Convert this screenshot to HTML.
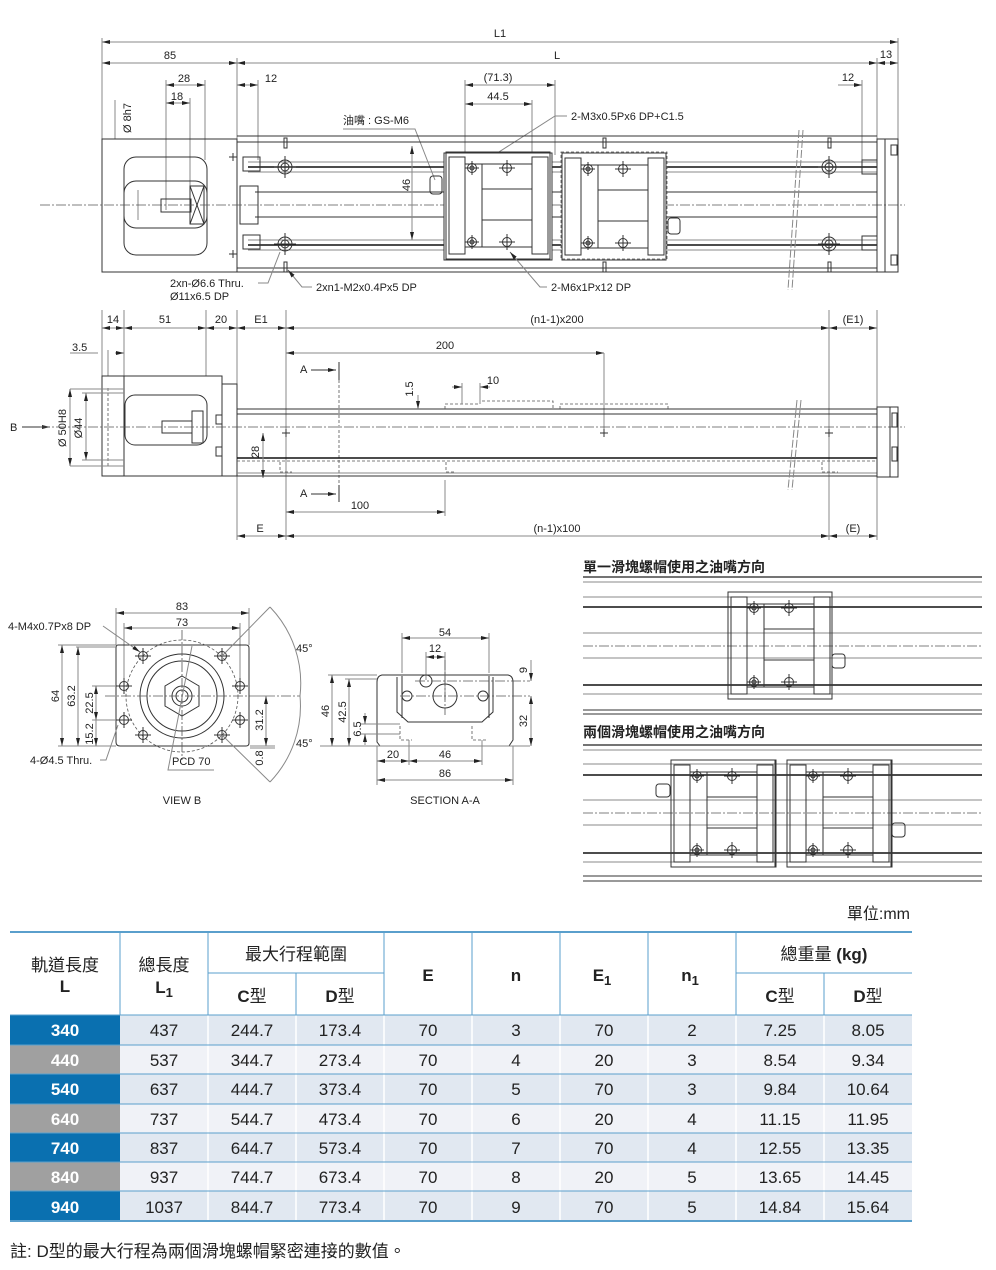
<!DOCTYPE html>
<html><head><meta charset="utf-8">
<style>
html,body{margin:0;padding:0;background:#fff;}
svg{display:block;}
text{font-family:"Liberation Sans","Noto Sans CJK TC",sans-serif;fill:#222;}
.d{font-size:11px;}
.l{stroke:#333;stroke-width:1;fill:none;}
.g{stroke:#888;stroke-width:1;fill:none;}
.k{stroke:#111;stroke-width:1.6;fill:none;}
.c{stroke:#555;stroke-width:0.8;fill:none;stroke-dasharray:10 2 2 2;}
.h{stroke:#555;stroke-width:0.8;fill:none;stroke-dasharray:3 2;}
.t{font-size:17px;text-anchor:middle;}
.w{fill:#fff;font-weight:bold;}
</style></head><body>
<svg width="996" height="1270" viewBox="0 0 996 1270" xmlns="http://www.w3.org/2000/svg">
<defs>
<marker id="a" markerWidth="8" markerHeight="6" refX="8" refY="3" orient="auto-start-reverse" markerUnits="userSpaceOnUse"><path d="M0,1 L8,3 L0,5z" fill="#222"/></marker>
<g id="hole"><circle r="7" class="l"/><circle r="4" class="l"/><path d="M-11,0H11M0,-11V11" class="l" stroke-width="0.6"/></g>
<g id="sh"><circle r="4.5" class="l"/><circle r="2" class="l"/><path d="M-7,0H7M0,-7V7" class="l" stroke-width="0.6"/></g>
<g id="ph"><circle r="4.5" class="l"/><path d="M-8,0H8M0,-8V8" class="l" stroke-width="0.6"/></g>
<g id="blk">
<rect x="0" y="0" width="104" height="107" class="l"/>
<rect x="3" y="5" width="16" height="97" class="l" stroke-width="1.3"/>
<rect x="86" y="5" width="16" height="97" class="l" stroke-width="1.3"/>
<rect x="19" y="12" width="67" height="83" class="l"/>
<path d="M36,12V95M36,37H86M36,68H86" class="l"/>
<use href="#sh" x="26" y="16"/><use href="#sh" x="26" y="90"/>
<use href="#ph" x="61" y="16"/><use href="#ph" x="61" y="90"/>
</g>
</defs>

<!-- ============ TOP VIEW ============ -->
<line x1="102" y1="42" x2="898" y2="42" class="g" marker-start="url(#a)" marker-end="url(#a)"/>
<text x="500" y="37" class="d" text-anchor="middle">L1</text>
<path d="M102,38V139M898,38V139M237,58V139M877,58V139" class="g"/>
<line x1="102" y1="63" x2="237" y2="63" class="g" marker-start="url(#a)" marker-end="url(#a)"/>
<text x="170" y="59" class="d" text-anchor="middle">85</text>
<line x1="237" y1="63" x2="877" y2="63" class="g" marker-start="url(#a)" marker-end="url(#a)"/>
<text x="557" y="59" class="d" text-anchor="middle">L</text>
<line x1="877" y1="63" x2="898" y2="63" class="g" marker-start="url(#a)" marker-end="url(#a)"/>
<text x="886" y="58" class="d" text-anchor="middle">13</text>
<line x1="166" y1="85" x2="205" y2="85" class="g" marker-start="url(#a)" marker-end="url(#a)"/>
<text x="184" y="82" class="d" text-anchor="middle">28</text>
<line x1="166" y1="103" x2="190" y2="103" class="g" marker-start="url(#a)" marker-end="url(#a)"/>
<text x="177" y="100" class="d" text-anchor="middle">18</text>
<path d="M166,80V210M190,98V200M205,80V160" class="g"/>
<line x1="237" y1="85" x2="258" y2="85" class="g" marker-start="url(#a)" marker-end="url(#a)"/>
<text x="271" y="82" class="d" text-anchor="middle">12</text>
<path d="M258,80V160" class="g"/>
<line x1="465" y1="85" x2="555" y2="85" class="g" marker-start="url(#a)" marker-end="url(#a)"/>
<text x="498" y="81" class="d" text-anchor="middle">(71.3)</text>
<line x1="465" y1="104" x2="532" y2="104" class="g" marker-start="url(#a)" marker-end="url(#a)"/>
<text x="498" y="100" class="d" text-anchor="middle">44.5</text>
<path d="M465,80V160M555,80V155M532,100V160" class="g"/>
<line x1="838" y1="85" x2="862" y2="85" class="g" marker-end="url(#a)"/>
<text x="848" y="81" class="d" text-anchor="middle">12</text>
<path d="M862,80V160" class="g"/>
<text x="131" y="118" class="d" transform="rotate(-90 131 118)" text-anchor="middle">Ø 8h7</text>
<line x1="115" y1="100" x2="115" y2="139" class="g"/>
<text x="343" y="124" class="d">油嘴 : GS-M6</text>
<path d="M343,129H415L435,180" class="g"/>
<text x="571" y="120" class="d">2-M3x0.5Px6 DP+C1.5</text>
<path d="M567,116H555L474,168" class="g" marker-end="url(#a)"/>

<!-- motor -->
<rect x="102" y="139" width="135" height="133" class="l"/>
<rect x="124" y="157" width="83" height="98" rx="12" class="l"/>
<rect x="124" y="181" width="83" height="47" rx="12" class="l"/>
<rect x="161" y="199" width="30" height="13" class="l"/>
<rect x="190" y="186" width="14" height="38" class="l"/>
<path d="M190,186L204,224M204,186L190,224" class="l"/>
<line x1="138" y1="190" x2="138" y2="220" class="g"/>
<!-- rail body -->
<path d="M237,136H877M237,142H877M237,272H877M237,268H877" class="l"/>
<path d="M248,167H877M248,245H877" class="k"/>
<path d="M248,162H877M248,172H877M248,240H877M248,250H877" class="g"/>
<path d="M255,192H877M255,217H877" class="l"/>
<rect x="240" y="186" width="18" height="38" class="l"/>
<rect x="243" y="157" width="17" height="14" class="l"/><rect x="243" y="235" width="17" height="14" class="l"/>
<line x1="40" y1="205" x2="905" y2="205" class="c"/>
<use href="#hole" x="285" y="167"/><use href="#hole" x="285" y="244"/>
<use href="#hole" x="829" y="167"/><use href="#hole" x="829" y="244"/>
<path d="M229,157H237M233,153V161M229,254H237M233,250V258" class="l"/>
<rect x="284" y="138" width="3" height="10" class="l"/><rect x="284" y="262" width="3" height="10" class="l"/>
<rect x="603" y="138" width="3" height="10" class="l"/><rect x="603" y="262" width="3" height="10" class="l"/>
<rect x="828" y="138" width="3" height="10" class="l"/><rect x="828" y="262" width="3" height="10" class="l"/>
<path d="M803,130L792,290M799,130L788,290" class="g" stroke-dasharray="8 2"/>
<!-- right end -->
<rect x="877" y="139" width="8" height="133" class="l"/>
<rect x="885" y="139" width="13" height="133" class="l"/>
<rect x="862" y="160" width="15" height="14" class="l"/><rect x="862" y="236" width="15" height="14" class="l"/>
<rect x="891" y="145" width="6" height="10" class="l"/><rect x="891" y="255" width="6" height="10" class="l"/>
<!-- sliders -->
<rect x="444" y="152" width="108" height="108" fill="#fff" stroke="none"/>
<use href="#blk" x="446" y="152"/>
<rect x="444" y="153" width="108" height="107" class="l"/>
<rect x="561" y="152" width="106" height="108" fill="#fff" stroke="none"/>
<use href="#blk" x="562" y="153"/>
<rect x="561" y="152" width="106" height="107" class="h"/>
<rect x="430" y="176" width="12" height="18" rx="3" class="l"/>
<rect x="668" y="218" width="12" height="16" rx="3" class="l"/>
<line x1="412" y1="146" x2="412" y2="240" class="g" marker-start="url(#a)" marker-end="url(#a)"/>
<text x="410" y="185" class="d" transform="rotate(-90 410 185)" text-anchor="middle">46</text>
<!-- labels -->
<text x="170" y="287" class="d">2xn-Ø6.6 Thru.</text>
<text x="170" y="300" class="d">Ø11x6.5 DP</text>
<path d="M258,283H268L280,252" class="g"/>
<text x="316" y="291" class="d">2xn1-M2x0.4Px5 DP</text>
<path d="M312,287H302L288,270" class="g" marker-end="url(#a)"/>
<text x="551" y="291" class="d">2-M6x1Px12 DP</text>
<path d="M547,287H540L510,252" class="g" marker-end="url(#a)"/>

<!-- ============ SIDE VIEW ============ -->
<path d="M102,310V376M124,310V376M206,310V376M237,310V540M286,310V540M829,310V540M877,310V540" class="g"/>
<line x1="102" y1="328" x2="124" y2="328" class="g" marker-start="url(#a)" marker-end="url(#a)"/>
<text x="113" y="323" class="d" text-anchor="middle">14</text>
<line x1="124" y1="328" x2="206" y2="328" class="g" marker-start="url(#a)" marker-end="url(#a)"/>
<text x="165" y="323" class="d" text-anchor="middle">51</text>
<line x1="206" y1="328" x2="237" y2="328" class="g" marker-start="url(#a)" marker-end="url(#a)"/>
<text x="221" y="323" class="d" text-anchor="middle">20</text>
<line x1="237" y1="328" x2="286" y2="328" class="g" marker-start="url(#a)" marker-end="url(#a)"/>
<text x="261" y="323" class="d" text-anchor="middle">E1</text>
<line x1="286" y1="328" x2="829" y2="328" class="g" marker-start="url(#a)" marker-end="url(#a)"/>
<text x="557" y="323" class="d" text-anchor="middle">(n1-1)x200</text>
<line x1="829" y1="328" x2="877" y2="328" class="g" marker-start="url(#a)" marker-end="url(#a)"/>
<text x="853" y="323" class="d" text-anchor="middle">(E1)</text>
<line x1="286" y1="353" x2="604" y2="353" class="g" marker-start="url(#a)" marker-end="url(#a)"/>
<text x="445" y="349" class="d" text-anchor="middle">200</text>
<path d="M604,353V433M108,350V376" class="g"/>
<path d="M70,353H98M115,353H124" class="g" marker-end="url(#a)"/>
<text x="72" y="351" class="d">3.5</text>
<text x="300" y="373" class="d">A</text><path d="M311,370H336" class="l" marker-end="url(#a)"/><path d="M339,362V380" class="l"/>
<text x="300" y="497" class="d">A</text><path d="M311,494H336" class="l" marker-end="url(#a)"/><path d="M339,485V502" class="l"/>
<path d="M339,380V485" class="h"/>
<text x="10" y="431" class="d">B</text><path d="M22,427H50" class="l" marker-end="url(#a)"/>
<rect x="102" y="376" width="120" height="100" class="l"/>
<path d="M222,376V384H237V476H222" class="l"/>
<path d="M124,376V476" class="l"/>
<rect x="125" y="395" width="82" height="50" rx="10" class="l"/>
<rect x="162" y="421" width="30" height="12" class="l"/>
<rect x="192" y="411" width="11" height="32" class="l"/>
<path d="M108,388V466" class="h"/>
<path d="M70,389H124M70,466H124M82,393H124M82,460H124" class="g"/>
<line x1="70" y1="389" x2="70" y2="466" class="g" marker-start="url(#a)" marker-end="url(#a)"/>
<line x1="86" y1="393" x2="86" y2="460" class="g" marker-start="url(#a)" marker-end="url(#a)"/>
<text x="66" y="428" class="d" transform="rotate(-90 66 428)" text-anchor="middle">Ø 50H8</text>
<text x="82" y="428" class="d" transform="rotate(-90 82 428)" text-anchor="middle">Ø44</text>
<rect x="216" y="415" width="6" height="9" class="l"/><rect x="216" y="447" width="6" height="9" class="l"/>
<path d="M237,409H877M237,414H877M237,476H877" class="l"/>
<path d="M237,458H877" class="k"/>
<path d="M237,461H877" class="h" stroke="#999" stroke-width="2"/>
<path d="M237,473H877" class="g"/>
<path d="M445,409V404H480V401H553V409M560,409V404H668V409" class="h"/>
<line x1="40" y1="427" x2="905" y2="427" class="c"/>
<path d="M282,433H290M286,429V437M600,433H608M604,429V437M825,433H833M829,429V437" class="l"/>
<line x1="263" y1="433" x2="263" y2="478" class="g" marker-start="url(#a)" marker-end="url(#a)"/>
<text x="259" y="452" class="d" transform="rotate(-90 259 452)" text-anchor="middle">28</text>
<line x1="418" y1="395" x2="418" y2="409" class="g" marker-end="url(#a)"/>
<text x="413" y="389" class="d" transform="rotate(-90 413 389)" text-anchor="middle">1.5</text>
<line x1="452" y1="387" x2="462" y2="387" class="g" marker-end="url(#a)"/>
<line x1="490" y1="387" x2="480" y2="387" class="g" marker-end="url(#a)"/>
<path d="M462,383V404M480,383V404" class="g"/>
<text x="493" y="384" class="d" text-anchor="middle">10</text>
<path d="M280,462V472H292M446,462V472H454M822,462V472H838" class="h"/>
<path d="M797,400L788,490M801,400L792,490" class="g" stroke-dasharray="8 2"/>
<rect x="877" y="407" width="13" height="70" class="l"/><rect x="890" y="407" width="8" height="70" class="l"/>
<rect x="892" y="413" width="5" height="14" class="l"/><rect x="892" y="447" width="5" height="14" class="l"/>
<line x1="286" y1="512" x2="445" y2="512" class="g" marker-start="url(#a)" marker-end="url(#a)"/>
<text x="360" y="509" class="d" text-anchor="middle">100</text>
<path d="M445,480V516" class="g"/>
<line x1="237" y1="536" x2="286" y2="536" class="g" marker-start="url(#a)" marker-end="url(#a)"/>
<text x="260" y="532" class="d" text-anchor="middle">E</text>
<line x1="286" y1="536" x2="829" y2="536" class="g" marker-start="url(#a)" marker-end="url(#a)"/>
<text x="557" y="532" class="d" text-anchor="middle">(n-1)x100</text>
<line x1="829" y1="536" x2="877" y2="536" class="g" marker-start="url(#a)" marker-end="url(#a)"/>
<text x="853" y="532" class="d" text-anchor="middle">(E)</text>

<!-- ============ VIEW B ============ -->
<path d="M116,608V645M249,608V645M124,623V686M240,623V686" class="g"/>
<line x1="116" y1="613" x2="249" y2="613" class="g" marker-start="url(#a)" marker-end="url(#a)"/>
<text x="182" y="610" class="d" text-anchor="middle">83</text>
<line x1="124" y1="628" x2="240" y2="628" class="g" marker-start="url(#a)" marker-end="url(#a)"/>
<text x="182" y="626" class="d" text-anchor="middle">73</text>
<path d="M118,645H246Q249,645 249,648V743Q249,746 246,746H120Q116,746 116,742V648Q116,645 118,645Z" class="l"/>
<circle cx="182" cy="696" r="56" class="h"/>
<circle cx="182" cy="696" r="42" class="l"/><circle cx="182" cy="696" r="35" class="l"/>
<polygon points="182,676 199,686 199,706 182,716 165,706 165,686" class="l"/>
<circle cx="182" cy="696" r="10" class="l"/><circle cx="182" cy="696" r="6" class="l"/>
<path d="M105,696H300M182,630V760" class="c"/>
<use href="#ph" x="143" y="656"/><use href="#ph" x="222" y="656"/><use href="#ph" x="124" y="686"/><use href="#ph" x="240" y="686"/>
<use href="#ph" x="124" y="720"/><use href="#ph" x="240" y="720"/><use href="#ph" x="143" y="735"/><use href="#ph" x="222" y="735"/>
<path d="M222,656L270,607M222,735L270,782" class="g"/>
<path d="M270,607A110,110 0 0 1 300,696A110,110 0 0 1 270,782" class="g"/>
<text x="296" y="652" class="d">45°</text><text x="296" y="747" class="d">45°</text>
<text x="8" y="630" class="d">4-M4x0.7Px8 DP</text>
<path d="M103,626L140,652" class="g" marker-end="url(#a)"/>
<text x="30" y="764" class="d">4-Ø4.5 Thru.</text>
<path d="M100,760H106L118,725" class="g"/>
<text x="172" y="765" class="d">PCD 70</text>
<path d="M214,770H168L192,646" class="g"/>
<path d="M58,645H116M58,746H116M76,647H116M92,686H116M92,720H116" class="g"/>
<line x1="62" y1="645" x2="62" y2="746" class="g" marker-start="url(#a)" marker-end="url(#a)"/>
<text x="59" y="696" class="d" transform="rotate(-90 59 696)" text-anchor="middle">64</text>
<line x1="78" y1="647" x2="78" y2="746" class="g" marker-start="url(#a)" marker-end="url(#a)"/>
<text x="75" y="696" class="d" transform="rotate(-90 75 696)" text-anchor="middle">63.2</text>
<line x1="96" y1="686" x2="96" y2="720" class="g" marker-start="url(#a)" marker-end="url(#a)"/>
<text x="93" y="703" class="d" transform="rotate(-90 93 703)" text-anchor="middle">22.5</text>
<line x1="96" y1="720" x2="96" y2="746" class="g" marker-end="url(#a)"/>
<text x="93" y="734" class="d" transform="rotate(-90 93 734)" text-anchor="middle">15.2</text>
<path d="M250,696H275M250,746H275M250,748H275" class="g"/>
<line x1="266" y1="696" x2="266" y2="746" class="g" marker-start="url(#a)" marker-end="url(#a)"/>
<text x="263" y="720" class="d" transform="rotate(-90 263 720)" text-anchor="middle">31.2</text>
<text x="263" y="758" class="d" transform="rotate(-90 263 758)" text-anchor="middle">0.8</text>
<text x="182" y="804" class="d" text-anchor="middle">VIEW B</text>

<!-- ============ SECTION A-A ============ -->
<path d="M402,633V673M489,633V673M426,652V680M445,652V700" class="g"/>
<line x1="402" y1="638" x2="489" y2="638" class="g" marker-start="url(#a)" marker-end="url(#a)"/>
<text x="445" y="636" class="d" text-anchor="middle">54</text>
<line x1="426" y1="657" x2="445" y2="657" class="g" marker-start="url(#a)" marker-end="url(#a)"/>
<text x="435" y="652" class="d" text-anchor="middle">12</text>
<path d="M382,675H508Q513,676 513,682V740L509,746H380L377,742V682Q377,676 382,675Z" class="l"/>
<path d="M397,677V712L408,722H482L493,712V677" class="l"/>
<path d="M402,676V718M489,676V718" class="l"/>
<circle cx="407" cy="696" r="5" class="l"/><circle cx="483" cy="696" r="5" class="l"/>
<circle cx="445" cy="696" r="12" class="l"/><circle cx="426" cy="681" r="6" class="l"/>
<path d="M400,696H530M445,660V715M415,681H530" class="c"/>
<path d="M400,726V740H412M472,726V740H486" class="h"/>
<path d="M328,675H377M345,679H377M361,724H400M361,734H400" class="g"/>
<line x1="332" y1="675" x2="332" y2="746" class="g" marker-start="url(#a)" marker-end="url(#a)"/>
<text x="329" y="711" class="d" transform="rotate(-90 329 711)" text-anchor="middle">46</text>
<line x1="349" y1="679" x2="349" y2="746" class="g" marker-start="url(#a)" marker-end="url(#a)"/>
<text x="346" y="712" class="d" transform="rotate(-90 346 712)" text-anchor="middle">42.5</text>
<line x1="365" y1="713" x2="365" y2="724" class="g" marker-end="url(#a)"/>
<line x1="365" y1="745" x2="365" y2="734" class="g" marker-end="url(#a)"/>
<text x="361" y="729" class="d" transform="rotate(-90 361 729)" text-anchor="middle">6.5</text>
<path d="M320,746H530" class="g"/>
<line x1="531" y1="660" x2="531" y2="681" class="g" marker-end="url(#a)"/>
<text x="527" y="670" class="d" transform="rotate(-90 527 670)" text-anchor="middle">9</text>
<line x1="531" y1="696" x2="531" y2="746" class="g" marker-start="url(#a)" marker-end="url(#a)"/>
<text x="527" y="721" class="d" transform="rotate(-90 527 721)" text-anchor="middle">32</text>
<path d="M377,746V785M409,740V765M482,740V765M513,746V785" class="g"/>
<line x1="377" y1="761" x2="409" y2="761" class="g" marker-start="url(#a)" marker-end="url(#a)"/>
<text x="393" y="758" class="d" text-anchor="middle">20</text>
<line x1="409" y1="761" x2="482" y2="761" class="g" marker-start="url(#a)" marker-end="url(#a)"/>
<text x="445" y="758" class="d" text-anchor="middle">46</text>
<line x1="377" y1="780" x2="513" y2="780" class="g" marker-start="url(#a)" marker-end="url(#a)"/>
<text x="445" y="777" class="d" text-anchor="middle">86</text>
<text x="445" y="804" class="d" text-anchor="middle">SECTION A-A</text>

<!-- ============ RIGHT DIAGRAMS ============ -->
<text x="583" y="572" font-size="14" font-weight="bold">單一滑塊螺帽使用之油嘴方向</text>
<path d="M583,577H982" stroke="#222" stroke-width="1.2"/><path d="M583,582H982M583,597H982M583,633H982M583,658H982M583,694H982" class="g"/>
<path d="M583,607H982M583,685H982" class="k"/><path d="M583,710H982M583,714H982" class="l"/>
<line x1="583" y1="646" x2="982" y2="646" class="c"/>
<rect x="728" y="592" width="104" height="107" fill="#fff" class="l"/>
<use href="#blk" x="728" y="592"/>
<rect x="832" y="654" width="13" height="14" rx="3" class="l"/>

<text x="583" y="737" font-size="14" font-weight="bold">兩個滑塊螺帽使用之油嘴方向</text>
<path d="M583,745H982" stroke="#222" stroke-width="1.2"/><path d="M583,750H982M583,764H982M583,800H982M583,825H982M583,862H982" class="g"/>
<path d="M583,775H982M583,853H982" class="k"/><path d="M583,876H982M583,881H982" class="l"/>
<line x1="583" y1="813" x2="982" y2="813" class="c"/>
<rect x="671" y="760" width="105" height="107" fill="#fff" class="l"/>
<use href="#blk" x="671" y="760"/>
<rect x="787" y="760" width="105" height="107" fill="#fff" class="l"/>
<use href="#blk" x="787" y="760"/>
<rect x="656" y="784" width="14" height="13" rx="3" class="l"/>
<rect x="892" y="823" width="13" height="14" rx="3" class="l"/>

<!-- ============ TABLE ============ -->
<text x="910" y="919" font-size="16" text-anchor="end" fill="#333">單位:mm</text>
<rect x="120" y="1015" width="792" height="30" fill="#e1e8f1"/>
<rect x="120" y="1045" width="792" height="29" fill="#f0f2f7"/>
<rect x="120" y="1074" width="792" height="30" fill="#e1e8f1"/>
<rect x="120" y="1104" width="792" height="29" fill="#f0f2f7"/>
<rect x="120" y="1133" width="792" height="29" fill="#e1e8f1"/>
<rect x="120" y="1162" width="792" height="29" fill="#f0f2f7"/>
<rect x="120" y="1191" width="792" height="30" fill="#e1e8f1"/>
<rect x="10" y="1015" width="110" height="30" fill="#0a70b0"/>
<rect x="10" y="1045" width="110" height="29" fill="#a0a0a0"/>
<rect x="10" y="1074" width="110" height="30" fill="#0a70b0"/>
<rect x="10" y="1104" width="110" height="29" fill="#a0a0a0"/>
<rect x="10" y="1133" width="110" height="29" fill="#0a70b0"/>
<rect x="10" y="1162" width="110" height="29" fill="#a0a0a0"/>
<rect x="10" y="1191" width="110" height="30" fill="#0a70b0"/>
<g stroke="#fff" stroke-width="1.5"><path d="M208,1015V1221M296,1015V1221M384,1015V1221M472,1015V1221M560,1015V1221M648,1015V1221M736,1015V1221M824,1015V1221"/></g>
<g stroke="#5a9fcc" stroke-width="1">
<path d="M10,932H912" stroke-width="2"/>
<path d="M208,973H384M736,973H912"/>
<path d="M10,1015H912M10,1045H912M10,1074H912M10,1104H912M10,1133H912M10,1162H912M10,1191H912"/>
<path d="M10,1221H912" stroke-width="2"/>
<path d="M120,932V1015M208,932V1015M384,932V1015M472,932V1015M560,932V1015M648,932V1015M736,932V1015M296,973V1015M824,973V1015"/>
</g>
<g class="t">
<text x="65" y="971" class="t">軌道長度</text>
<text x="65" y="992" class="t" font-weight="bold">L</text>
<text x="164" y="971" class="t">總長度</text>
<text x="164" y="993" class="t" font-weight="bold">L<tspan font-size="13" dy="4">1</tspan></text>
<text x="296" y="960" class="t">最大行程範圍</text>
<text x="252" y="1002" class="t"><tspan font-weight="bold">C</tspan>型</text>
<text x="340" y="1002" class="t"><tspan font-weight="bold">D</tspan>型</text>
<text x="428" y="981" class="t" font-weight="bold">E</text>
<text x="516" y="981" class="t" font-weight="bold">n</text>
<text x="602" y="981" class="t" font-weight="bold">E<tspan font-size="13" dy="4">1</tspan></text>
<text x="690" y="981" class="t" font-weight="bold">n<tspan font-size="13" dy="4">1</tspan></text>
<text x="824" y="960" class="t">總重量 <tspan font-weight="bold">(kg)</tspan></text>
<text x="780" y="1002" class="t"><tspan font-weight="bold">C</tspan>型</text>
<text x="868" y="1002" class="t"><tspan font-weight="bold">D</tspan>型</text>
</g>
<g font-size="17" text-anchor="middle">
<text x="65" y="1036" class="w">340</text><text x="65" y="1066" class="w">440</text><text x="65" y="1095" class="w">540</text><text x="65" y="1125" class="w">640</text><text x="65" y="1154" class="w">740</text><text x="65" y="1183" class="w">840</text><text x="65" y="1213" class="w">940</text>
<text x="164" y="1036">437</text><text x="252" y="1036">244.7</text><text x="340" y="1036">173.4</text><text x="428" y="1036">70</text><text x="516" y="1036">3</text><text x="604" y="1036">70</text><text x="692" y="1036">2</text><text x="780" y="1036">7.25</text><text x="868" y="1036">8.05</text>
<text x="164" y="1066">537</text><text x="252" y="1066">344.7</text><text x="340" y="1066">273.4</text><text x="428" y="1066">70</text><text x="516" y="1066">4</text><text x="604" y="1066">20</text><text x="692" y="1066">3</text><text x="780" y="1066">8.54</text><text x="868" y="1066">9.34</text>
<text x="164" y="1095">637</text><text x="252" y="1095">444.7</text><text x="340" y="1095">373.4</text><text x="428" y="1095">70</text><text x="516" y="1095">5</text><text x="604" y="1095">70</text><text x="692" y="1095">3</text><text x="780" y="1095">9.84</text><text x="868" y="1095">10.64</text>
<text x="164" y="1125">737</text><text x="252" y="1125">544.7</text><text x="340" y="1125">473.4</text><text x="428" y="1125">70</text><text x="516" y="1125">6</text><text x="604" y="1125">20</text><text x="692" y="1125">4</text><text x="780" y="1125">11.15</text><text x="868" y="1125">11.95</text>
<text x="164" y="1154">837</text><text x="252" y="1154">644.7</text><text x="340" y="1154">573.4</text><text x="428" y="1154">70</text><text x="516" y="1154">7</text><text x="604" y="1154">70</text><text x="692" y="1154">4</text><text x="780" y="1154">12.55</text><text x="868" y="1154">13.35</text>
<text x="164" y="1183">937</text><text x="252" y="1183">744.7</text><text x="340" y="1183">673.4</text><text x="428" y="1183">70</text><text x="516" y="1183">8</text><text x="604" y="1183">20</text><text x="692" y="1183">5</text><text x="780" y="1183">13.65</text><text x="868" y="1183">14.45</text>
<text x="164" y="1213">1037</text><text x="252" y="1213">844.7</text><text x="340" y="1213">773.4</text><text x="428" y="1213">70</text><text x="516" y="1213">9</text><text x="604" y="1213">70</text><text x="692" y="1213">5</text><text x="780" y="1213">14.84</text><text x="868" y="1213">15.64</text>
</g>
<text x="10" y="1257" font-size="17">註: D型的最大行程為兩個滑塊螺帽緊密連接的數值。</text>
</svg>
</body></html>
